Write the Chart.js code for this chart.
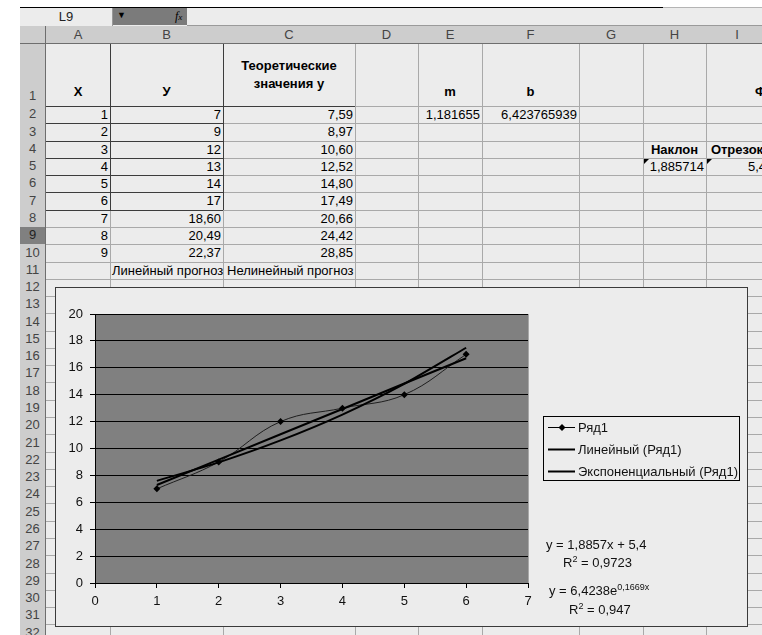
<!DOCTYPE html>
<html>
<head>
<meta charset="utf-8">
<script src="https://cdn.jsdelivr.net/npm/chart.js@4.4.1/dist/chart.umd.min.js"></script>
<style>
body { margin: 0; width: 762px; height: 635px; overflow: hidden; background: #fff; position: relative; font-family: "Liberation Sans", Arial, sans-serif; }
.abs { position: absolute; box-sizing: border-box; }
.cell { position: absolute; box-sizing: border-box; font-size: 13px; white-space: nowrap; line-height: 17px; color: #000; padding: 0 2px; }
.hdr { position: absolute; box-sizing: border-box; background: #cdcdcd; border-right: 1px solid #6e6e6e; border-bottom: 1px solid #6e6e6e; font-size: 13px; color: #444; text-align: center; }
.eq { position: absolute; font-size: 13px; color: #111; white-space: nowrap; line-height: 16px; z-index: 5; }
.eq sup { font-size: 9px; vertical-align: 5px; line-height: 0; }
#chartBox { position: absolute; left: 55px; top: 287px; z-index: 3; }
</style>
</head>
<body>
<div id="sheet"></div>
<canvas id="myChart" width="693" height="340"></canvas>
<div class="eq" style="left:546px;top:537px">y = 1,8857x + 5,4</div>
<div class="eq" style="left:563px;top:555px">R<sup>2</sup> = 0,9723</div>
<div class="eq" style="left:549px;top:583px">y = 6,4238e<sup>0,1669x</sup></div>
<div class="eq" style="left:569px;top:602px">R<sup>2</sup> = 0,947</div>
<script>
// spreadsheet data
var colX = [1, 2, 3, 4, 5, 6, 7, 8, 9];
var colY = ["7", "9", "12", "13", "14", "17", "18,60", "20,49", "22,37"];
var colTheory = ["7,59", "8,97", "10,60", "12,52", "14,80", "17,49", "20,66", "24,42", "28,85"];
var colNames = ["A", "B", "C", "D", "E", "F", "G", "H", "I"];

// chart data
var xVals = [1, 2, 3, 4, 5, 6];
var yVals = [7, 9, 12, 13, 14, 17];
var linearVals = [7.29, 9.17, 11.06, 12.94, 14.83, 16.71];
var expVals = [7.59, 8.97, 10.60, 12.52, 14.80, 17.49];
var seriesLabels = ["Ряд1", "Линейный (Ряд1)", "Экспоненциальный (Ряд1)"];

var colEdges = [46, 110, 223, 355, 418, 482, 579, 643, 706, 768];
function rowTop(r) { return r === 1 ? 44 : 106 + (r - 2) * 17.28; }
function rowBot(r) { return r === 1 ? 106 : rowTop(r + 1); }

var sheet = document.getElementById("sheet");
function box(style, html, cls) {
    var d = document.createElement("div");
    d.className = cls || "abs";
    d.setAttribute("style", style);
    if (html !== undefined) d.innerHTML = html;
    sheet.appendChild(d);
    return d;
}

// backgrounds
box("left:20px;top:8px;width:742px;height:627px;background:#ececec");
box("left:20px;top:7px;width:643px;height:1px;background:#000");
box("left:663px;top:7px;width:99px;height:1px;background:#b4b4b4");
// name box + formula bar
box("left:20px;top:8px;width:93px;height:18px;border-right:1px solid #999;font-size:13px;text-align:center;line-height:17px;color:#222", "L9");
box("left:113px;top:8px;width:74px;height:17px;background:#7b7b7b");
box("left:117px;top:10px;font-size:9px;color:#000", "&#9660;");
box("left:175px;top:8px;font-size:12px;font-style:italic;font-family:'Liberation Serif',serif;color:#000;line-height:17px", "<i>f</i><span style='font-size:9px'>x</span>");
box("left:187px;top:25px;width:575px;height:1px;background:#9a9a9a");

// grid lines
var r, c;
for (r = 1; r <= 32; r++) {
    box("left:46px;top:" + Math.round(rowBot(r)) + "px;width:716px;height:1px;background:#a9a9a9");
}
for (c = 1; c < colEdges.length; c++) {
    box("left:" + colEdges[c] + "px;top:44px;width:1px;height:591px;background:#a9a9a9");
}
// darker borders round A1:B7
for (r = 1; r <= 7; r++) {
    box("left:46px;top:" + Math.round(rowBot(r)) + "px;width:177px;height:1px;background:#3c3c3c");
}
box("left:223px;top:106px;width:132px;height:1px;background:#3c3c3c");
box("left:110px;top:44px;width:1px;height:" + Math.round(rowBot(7) - 44) + "px;background:#3c3c3c");
box("left:223px;top:44px;width:1px;height:" + Math.round(rowBot(7) - 44) + "px;background:#3c3c3c");

// column headers
box("left:20px;top:26px;width:26px;height:18px", "", "hdr");
for (c = 0; c < colNames.length; c++) {
    box("left:" + colEdges[c] + "px;top:26px;width:" + (colEdges[c + 1] - colEdges[c] + 1) + "px;height:18px;line-height:17px", colNames[c], "hdr");
}
// row headers
for (r = 1; r <= 32; r++) {
    var t = Math.round(rowTop(r)), h = Math.round(rowBot(r)) - t;
    var bg = r === 9 ? "background:#808080;color:#222;" : "";
    var lh = r === 1 ? "line-height:" + (h * 2 - 20) + "px;" : "line-height:" + (h - 1) + "px;";
    box("left:20px;top:" + t + "px;width:26px;height:" + (h + 1) + "px;" + bg + lh, String(r), "hdr");
}

function cell(col, row, text, align, extra) {
    var i = colNames.indexOf(col);
    var t = Math.round(rowTop(row)), h = Math.round(rowBot(row)) - t;
    var st = "left:" + colEdges[i] + "px;top:" + t + "px;width:" + (colEdges[i + 1] - colEdges[i]) + "px;height:" + h + "px;text-align:" + align + ";" + (extra || "");
    return box(st, text, "cell");
}

// header row 1 (bottom aligned, bold)
var hb = "font-weight:bold;line-height:16px;padding-top:40px;";
cell("A", 1, "X", "center", hb);
cell("B", 1, "У", "center", hb);
cell("C", 1, "Теоретические<br>значения у", "center", "font-weight:bold;line-height:18px;padding-top:13px;");
cell("E", 1, "m", "center", hb);
cell("F", 1, "b", "center", hb);
cell("I", 1, "Ф", "left", hb + "padding-left:49px;");

for (r = 0; r < colX.length; r++) {
    cell("A", r + 2, String(colX[r]), "right");
    cell("B", r + 2, colY[r], "right");
    cell("C", r + 2, colTheory[r], "right");
}
cell("E", 2, "1,181655", "right");
cell("F", 2, "6,423765939", "right");
cell("H", 4, "Наклон", "center", "font-weight:bold;");
cell("I", 4, "Отрезок", "center", "font-weight:bold;");
cell("H", 5, "1,885714", "right");
cell("I", 5, "5,4", "right");
box("left:644px;top:" + Math.round(rowTop(5) + 1) + "px;width:0;height:0;border-top:5px solid #000;border-right:5px solid transparent");
box("left:707px;top:" + Math.round(rowTop(5) + 1) + "px;width:0;height:0;border-top:5px solid #000;border-right:5px solid transparent");
cell("B", 11, "Линейный прогноз", "left");
cell("C", 11, "Нелинейный прогноз", "left", "padding-left:4px;");

// chart
var cv = document.getElementById("myChart");
cv.style.position = "absolute";
cv.style.left = "55px";
cv.style.top = "287px";
cv.style.zIndex = 3;

function pts(ys) {
    return xVals.map(function (x, i) { return { x: x, y: ys[i] }; });
}

var excelLook = {
    id: "excelLook",
    beforeDraw: function (chart) {
        var ctx = chart.ctx, a = chart.chartArea;
        ctx.save();
        ctx.fillStyle = "#ececec";
        ctx.fillRect(0, 0, chart.width, chart.height);
        ctx.fillStyle = "#808080";
        ctx.fillRect(a.left, a.top, a.right - a.left, a.bottom - a.top);
        ctx.restore();
    },
    afterDraw: function (chart) {
        var ctx = chart.ctx, a = chart.chartArea;
        ctx.save();
        ctx.strokeStyle = "#a8a8a8";
        ctx.lineWidth = 1;
        ctx.beginPath();
        ctx.moveTo(a.right + 0.5, a.top);
        ctx.lineTo(a.right + 0.5, a.bottom);
        ctx.stroke();
        ctx.strokeStyle = "#3a3a3a";
        ctx.strokeRect(0.5, 0.5, chart.width - 1, chart.height - 1);

        // legend box
        ctx.fillStyle = "#ececec";
        ctx.fillRect(488, 129, 196, 64);
        ctx.strokeStyle = "#000";
        ctx.strokeRect(488.5, 129.5, 196, 64);
        ctx.font = "13px 'Liberation Sans', Arial, sans-serif";
        ctx.textBaseline = "middle";
        var ys = [140, 162, 184];
        chart.data.datasets.forEach(function (ds, i) {
            ctx.strokeStyle = "#000";
            ctx.lineWidth = i === 0 ? 1 : 2;
            ctx.beginPath();
            ctx.moveTo(493, ys[i] + 0.5);
            ctx.lineTo(520, ys[i] + 0.5);
            ctx.stroke();
            if (i === 0) {
                ctx.fillStyle = "#000";
                ctx.beginPath();
                ctx.moveTo(507, ys[i] - 3);
                ctx.lineTo(510.5, ys[i] + 0.5);
                ctx.lineTo(507, ys[i] + 4);
                ctx.lineTo(503.5, ys[i] + 0.5);
                ctx.closePath();
                ctx.fill();
            }
            ctx.fillStyle = "#111";
            ctx.fillText(ds.label, 523, ys[i] + 1);
        });
        ctx.restore();
    }
};

var myChart = new Chart(cv, {
    type: "scatter",
    data: {
        datasets: [{
            label: seriesLabels[0],
            data: pts(yVals),
            showLine: true,
            tension: 0.4,
            borderColor: "#1e1e1e",
            borderWidth: 1,
            pointStyle: "rectRot",
            pointRadius: 3.5,
            pointBackgroundColor: "#000",
            pointBorderColor: "#000",
            pointBorderWidth: 0,
            order: 2
        }, {
            label: seriesLabels[1],
            data: pts(linearVals),
            showLine: true,
            borderColor: "#000",
            borderWidth: 2,
            pointRadius: 0,
            order: 1
        }, {
            label: seriesLabels[2],
            data: pts(expVals),
            showLine: true,
            tension: 0.2,
            borderColor: "#000",
            borderWidth: 2,
            pointRadius: 0,
            order: 0
        }]
    },
    options: {
        responsive: false,
        animation: false,
        events: [],
        layout: { padding: { left: 0, top: 27, right: 220, bottom: 0 } },
        plugins: {
            legend: { display: false },
            tooltip: { enabled: false }
        },
        scales: {
            x: {
                type: "linear",
                min: 0,
                max: 7,
                ticks: { stepSize: 1, padding: 6, color: "#111", font: { family: "'Liberation Sans', Arial, sans-serif", size: 13 } },
                grid: { drawOnChartArea: false, color: "#000", tickLength: 5 },
                border: { color: "#000" },
                afterFit: function (s) { s.height = 44; }
            },
            y: {
                min: 0,
                max: 20,
                ticks: { stepSize: 2, padding: 7, color: "#111", font: { family: "'Liberation Sans', Arial, sans-serif", size: 13 } },
                grid: { color: "#000", tickLength: 5 },
                border: { color: "#000" },
                afterFit: function (s) { s.width = 40; }
            }
        }
    },
    plugins: [excelLook]
});
</script>
</body>
</html>
